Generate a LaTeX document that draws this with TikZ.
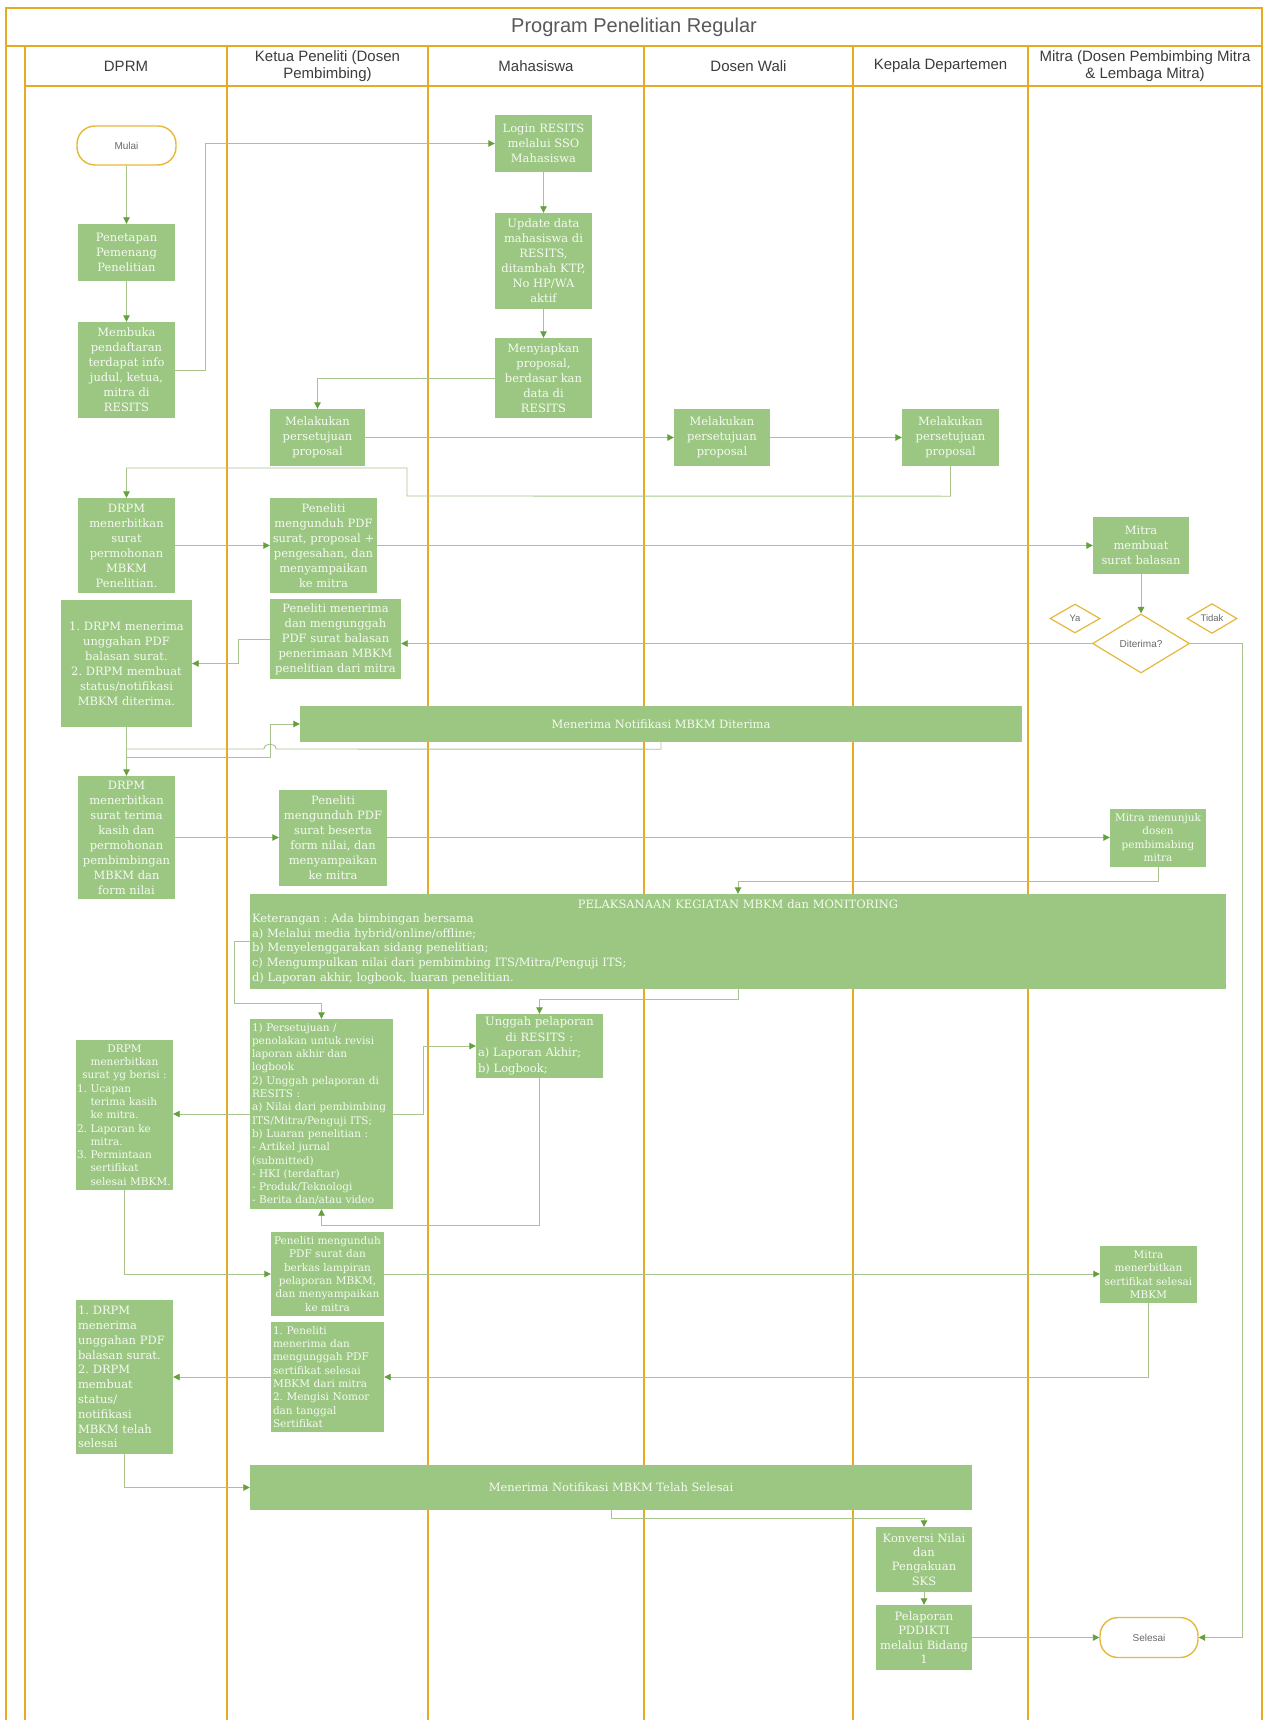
\documentclass[tikz,border=0pt]{standalone}
\usepackage{fontspec}
\setmainfont{DejaVu Serif}
\newfontfamily\sansf{Liberation Sans}
\usetikzlibrary{arrows.meta,shapes.geometric}

\definecolor{lanegold}{RGB}{232,170,35}
\definecolor{boxfill}{RGB}{155,199,130}
\definecolor{boxtext}{RGB}{246,250,242}
\definecolor{wire}{RGB}{168,196,140}
\definecolor{tipgreen}{RGB}{100,160,62}
\definecolor{termgold}{RGB}{230,184,58}
\definecolor{hdrtext}{RGB}{60,60,60}
\definecolor{labeltext}{RGB}{105,105,105}

\newcommand{\txtL}{\fontsize{11.5}{15}\selectfont}
\newcommand{\txtS}{\fontsize{10.5}{13.3}\selectfont}
\newcommand{\lft}{\raggedright}

\begin{document}
\frenchspacing
\begin{tikzpicture}[
  x=1pt, y=-1pt,
  task/.style={fill=boxfill, text=boxtext, inner xsep=0pt, inner ysep=1pt, align=center, font=\txtL},
  small/.style={font=\txtS},
  dims/.style 2 args={minimum width=#1, minimum height=#2},
  wrapdims/.style n args={3}{minimum width=#1, text width=#3, minimum height=#2, inner xsep=2pt, align=left},
  term/.style={draw=termgold, line width=1.4pt, fill=white, rounded corners=18pt,
    font=\sansf\fontsize{10}{12}\selectfont, text=labeltext},
  decision/.style={diamond, draw=termgold, line width=1.2pt, fill=white, inner sep=0pt,
    font=\sansf\fontsize{10}{12}\selectfont, text=labeltext},
  hdr/.style={font=\sansf\fontsize{15}{17.5}\selectfont, text=hdrtext, align=center},
  laneline/.style={draw=lanegold, line width=1.8pt},
  frameline/.style={draw=lanegold, line width=1.4pt},
  flow/.style={draw=wire, line width=0.9pt, -{Triangle[length=6.5pt,width=6.5pt,color=tipgreen]}},
  wireonly/.style={draw=wire, line width=0.9pt},
]
\useasboundingbox (0,0) rectangle (1265,1720);
\fill[white] (0,0) rectangle (1265,1720);

% ---- pool frame, title band, header row ----
\draw[frameline] (6,1720) -- (6,8) -- (1262,8) -- (1262,1720);
\draw[frameline] (6,46) -- (1262,46);
\draw[frameline] (25,46) -- (25,1720);
\draw[frameline] (25,86) -- (1262,86);
\foreach \lx in {227,428,644,853,1028}
  \draw[laneline] (\lx,46) -- (\lx,1720);

\node[font=\sansf\fontsize{20}{24}\selectfont, text=hdrtext!85] (title) at (634,27) {Program Penelitian Regular};
\node[hdr] (hDPRM)  at (126,66)   {DPRM};
\node[hdr] (hKetua) at (327.5,66) {Ketua Peneliti (Dosen\\Pembimbing)};
\node[hdr] (hMhs)   at (536,66)   {Mahasiswa};
\node[hdr] (hWali)  at (748.5,66) {Dosen Wali};
\node[hdr] (hKadep) at (940.5,66) {Kepala Departemen};
\node[hdr] (hMitra) at (1145,66)  {Mitra (Dosen Pembimbing Mitra\\\& Lembaga Mitra)};

% ---- process steps ----
\node[term, dims={99pt}{39pt}] (mulai) at (126.5,145.5) {Mulai};
\node[task, dims={97pt}{57pt}] (penetapan) at (126.5,252.5) {Penetapan\\Pemenang\\Penelitian};
\node[task, dims={97pt}{96pt}] (membuka) at (126.5,370) {Membuka\\pendaftaran\\terdapat info\\judul, ketua,\\mitra di\\RESITS};

\node[task, dims={97pt}{57pt}] (login) at (543.5,143.5) {Login RESITS\\melalui SSO\\Mahasiswa};
\node[task, dims={97pt}{96pt}] (update) at (543.5,261) {Update data\\mahasiswa di\\RESITS,\\ditambah KTP,\\No HP/WA\\aktif};
\node[task, dims={97pt}{80pt}] (menyiapkan) at (543.5,378) {Menyiapkan\\proposal,\\berdasar kan\\data di\\RESITS};

\node[task, dims={95pt}{57pt}] (setujuK) at (317.5,437.5) {Melakukan\\persetujuan\\proposal};
\node[task, dims={96pt}{57pt}] (setujuW) at (722,437.5) {Melakukan\\persetujuan\\proposal};
\node[task, dims={97pt}{57pt}] (setujuD) at (950.5,437.5) {Melakukan\\persetujuan\\proposal};

\node[task, dims={97pt}{95pt}] (drpmsurat) at (126.5,545.5) {DRPM\\menerbitkan\\surat\\permohonan\\MBKM\\Penelitian.};
\node[task, dims={107pt}{95pt}] (unduh1) at (323.5,545.5) {Peneliti\\mengunduh PDF\\surat, proposal +\\pengesahan, dan\\menyampaikan\\ke mitra};
\node[task, dims={96pt}{57pt}] (mitrabalas) at (1141,545.5) {Mitra\\membuat\\surat balasan};

\node[decision, minimum width=97pt, minimum height=59pt] (diterima) at (1141,643.5) {Diterima?};
\node[decision, minimum width=50pt, minimum height=29pt, font=\sansf\fontsize{9.5}{11}\selectfont] (ya) at (1075,618.5) {Ya};
\node[decision, minimum width=50pt, minimum height=29pt, font=\sansf\fontsize{9.5}{11}\selectfont] (tidak) at (1212,618.5) {Tidak};

\node[task, dims={131pt}{127pt}] (drpmterima) at (126.5,663.5) {1. DRPM menerima\\unggahan PDF\\balasan surat.\\2. DRPM membuat\\status/notifikasi\\MBKM diterima.};
\node[task, dims={131pt}{80pt}] (terimabalas) at (335.5,639) {Peneliti menerima\\dan mengunggah\\PDF surat balasan\\penerimaan MBKM\\penelitian dari mitra};

\node[task, dims={722pt}{36pt}] (notif1) at (661,724) {Menerima Notifikasi MBKM Diterima};

\node[task, dims={97pt}{123pt}] (drpmkasih) at (126.5,837.5) {DRPM\\menerbitkan\\surat terima\\kasih dan\\permohonan\\pembimbingan\\MBKM dan\\form nilai};
\node[task, dims={108pt}{96pt}] (unduh2) at (333,837.5) {Peneliti\\mengunduh PDF\\surat beserta\\form nilai, dan\\menyampaikan\\ke mitra};
\node[task, small, dims={96pt}{58pt}] (tunjuk) at (1158,837.5) {Mitra menunjuk\\dosen\\pembimabing\\mitra};

\node[task, wrapdims={976pt}{95pt}{972pt}, font=\fontsize{11.5}{14.6}\selectfont] (laksana) at (738,941.5)
  {\centering PELAKSANAAN KEGIATAN MBKM dan MONITORING\par
   \lft Keterangan : Ada bimbingan bersama\\a) Melalui media hybrid/online/offline;\\b) Menyelenggarakan sidang penelitian;\\c) Mengumpulkan nilai dari pembimbing ITS/Mitra/Penguji ITS;\\d) Laporan akhir, logbook, luaran penelitian.};

\node[task, small, wrapdims={143pt}{190pt}{139pt}] (setuju2) at (321.5,1114)
  {\lft 1) Persetujuan /\\penolakan untuk revisi\\laporan akhir dan\\logbook\\2) Unggah pelaporan di\\RESITS :\\a) Nilai dari pembimbing\\ITS/Mitra/Penguji ITS;\\b) Luaran penelitian :\\- Artikel jurnal\\(submitted)\\- HKI (terdaftar)\\- Produk/Teknologi\\- Berita dan/atau video};
\node[task, wrapdims={127pt}{64pt}{123pt}, font=\fontsize{11.5}{15.5}\selectfont] (unggah) at (539.5,1046)
  {\centering Unggah pelaporan\\di RESITS :\par\lft a) Laporan Akhir;\\b) Logbook;};
\node[task, small, wrapdims={97pt}{150pt}{95pt}, inner xsep=1pt] (drpmberisi) at (124.5,1115)
  {\centering DRPM\\menerbitkan\\surat yg berisi :\par
   \lft 1. Ucapan\\\phantom{1. }terima kasih\\\phantom{1. }ke mitra.\\2. Laporan ke\\\phantom{2. }mitra.\\3. Permintaan\\\phantom{3. }sertifikat\\\phantom{3. }selesai MBKM.};

\node[task, small, dims={113pt}{84pt}] (unduh3) at (327.5,1274) {Peneliti mengunduh\\PDF surat dan\\berkas lampiran\\pelaporan MBKM,\\dan menyampaikan\\ke mitra};
\node[task, small, dims={97pt}{57pt}] (terbitser) at (1148.5,1274.5) {Mitra\\menerbitkan\\sertifikat selesai\\MBKM};
\node[task, small, wrapdims={113pt}{110pt}{109pt}] (terimaser) at (327.5,1377)
  {\lft 1. Peneliti\\menerima dan\\mengunggah PDF\\sertifikat selesai\\MBKM dari mitra\\2. Mengisi Nomor\\dan tanggal\\Sertifikat};
\node[task, wrapdims={97pt}{154pt}{93pt}, font=\fontsize{11.5}{14.8}\selectfont] (drpmselesai) at (124.5,1377)
  {\lft 1. DRPM\\menerima\\unggahan PDF\\balasan surat.\\2. DRPM\\membuat\\status/\\notifikasi\\MBKM telah\\selesai};

\node[task, dims={722pt}{45pt}] (notif2) at (611,1487.5) {Menerima Notifikasi MBKM Telah Selesai};
\node[task, dims={96pt}{65pt}, font=\fontsize{11.5}{14.3}\selectfont] (konversi) at (924,1559.5) {Konversi Nilai\\dan\\Pengakuan\\SKS};
\node[task, dims={96pt}{65pt}, font=\fontsize{11.5}{14.3}\selectfont] (pddikti) at (924,1637.5) {Pelaporan\\PDDIKTI\\melalui Bidang\\1};
\node[term, dims={98pt}{40pt}] (selesai) at (1149,1637.5) {Selesai};

% ---- connectors ----
\draw[flow] (mulai) -- (penetapan);
\draw[flow] (penetapan) -- (membuka);
\draw[flow] (membuka.east) -- ++(30,0) |- (login.west);
\draw[flow] (login) -- (update);
\draw[flow] (update) -- (menyiapkan);
\draw[flow] (menyiapkan.west) -| (setujuK.north);
\draw[flow] (setujuK) -- (setujuW);
\draw[flow] (setujuW) -- (setujuD);
\draw[flow] (setujuD.south) -- ++(0,30) -- (407,496) -- (407,468) -| (drpmsurat.north);
\draw[flow] (drpmsurat) -- (unduh1);
\draw[flow] (unduh1) -- (mitrabalas);
\draw[flow] (mitrabalas) -- (diterima);
\draw[flow] (diterima.west) -- (diterima.west -| terimabalas.east);
\draw[flow] (terimabalas.west) -- ++(-31,0) |- (drpmterima.east);
\draw[flow] (diterima.east) -- ++(52,0) |- (selesai.east);

\draw[flow] (drpmterima.south) -- (drpmkasih.north);
\coordinate (split) at (126.5,757);
\draw[flow] (split) -- ++(143.5,0) |- (notif1.west);
\draw[wireonly] (notif1.south) -- ++(0,7) -- (276,749)
  .. controls (276,742.5) and (264,742.5) .. (264,749) -- (126.5,749);

\draw[flow] (drpmkasih) -- (unduh2);
\draw[flow] (unduh2) -- (tunjuk);
\draw[flow] (tunjuk.south) -- ++(0,15) -| (laksana.north);
\draw[flow] (laksana.west) -- ++(-15,0) -- ++(0,62) -| (setuju2.north);
\draw[flow] (laksana.south) -- ++(0,10) -| (unggah.north);
\draw[flow] (setuju2.west) -- (setuju2.west -| drpmberisi.east);
\draw[flow] (setuju2.east) -- ++(30,0) |- (unggah.west);
\draw[flow] (unggah.south) -- ++(0,147) -| (setuju2.south);

\draw[flow] (drpmberisi.south) |- (unduh3.west);
\draw[flow] (unduh3.east) -- (unduh3.east -| terbitser.west);
\draw[flow] (terbitser.south) |- (terimaser.east);
\draw[flow] (terimaser) -- (drpmselesai);
\draw[flow] (drpmselesai.south) |- (notif2.west);
\draw[flow] (notif2.south) -- ++(0,8) -| (konversi.north);
\draw[flow] (konversi) -- (pddikti);
\draw[flow] (pddikti) -- (selesai);
\end{tikzpicture}
\end{document}
